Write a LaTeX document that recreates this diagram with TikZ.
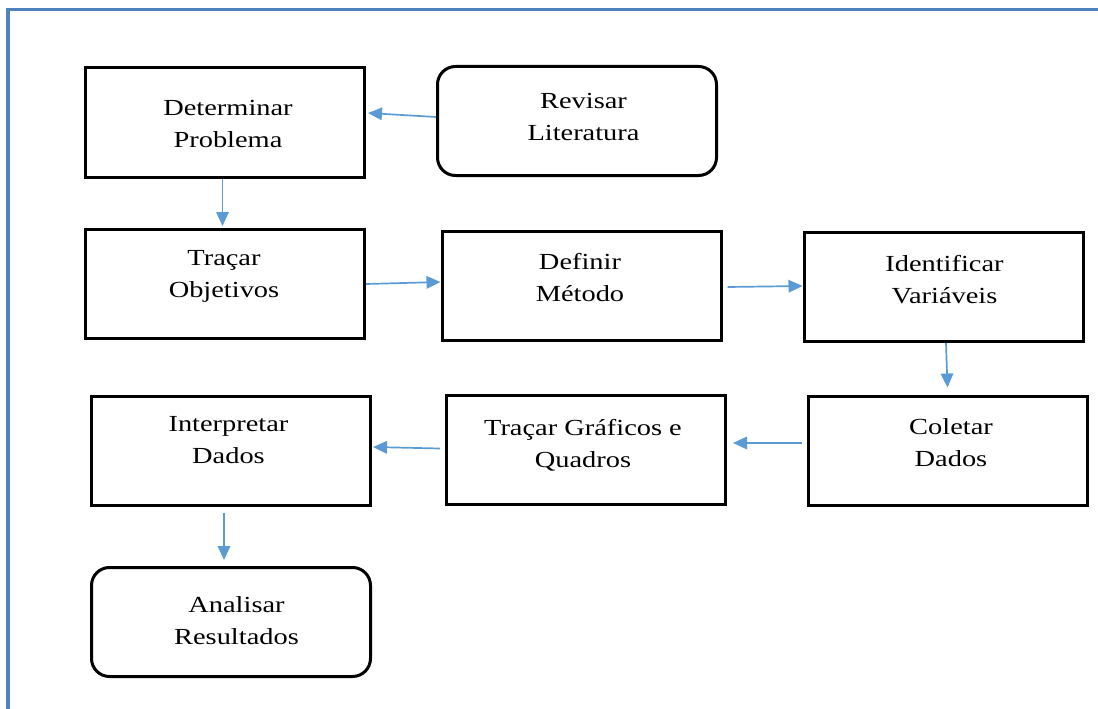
\documentclass[tikz,border=0pt]{standalone}
\usepackage{fontspec}
\setmainfont{Liberation Serif}[FakeStretch=1.235]
\usetikzlibrary{arrows.meta}
\definecolor{framecol}{RGB}{79,129,189}
\definecolor{arrowcol}{RGB}{91,155,213}
\tikzset{
  stepbox/.style={draw=black, line width=3pt, minimum width=279pt,
    minimum height=109pt, inner sep=0pt},
  roundbox/.style={stepbox, rounded corners=18pt},
  boxtext/.style={align=center, font=\fontsize{23}{32}\selectfont,
    text depth=0pt, inner sep=0pt},
  flow/.style={draw=arrowcol, line width=1.7pt,
    -{Triangle[length=14pt,width=12.5pt]}}
}
\begin{document}
\begin{tikzpicture}[x=1pt,y=-1pt]
\useasboundingbox (0,0) rectangle (1098,709);
\clip (0,0) rectangle (1098,709);
% outer frame (right and bottom edges fall outside the page)
\draw[framecol, line width=3.8pt] (8,9.5) rectangle (1130,740);

% boxes
\node[stepbox]  (det) at (225,122.5) {};
\node[roundbox] (rev) at (577,121) {};
\node[stepbox]  (obj) at (225,284) {};
\node[stepbox]  (met) at (581.5,286) {};
\node[stepbox]  (var) at (943.5,287) {};
\node[stepbox]  (col) at (947.5,450.5) {};
\node[stepbox]  (gra) at (586,450) {};
\node[stepbox]  (int) at (231,450.5) {};
\node[roundbox] (ana) at (231,622) {};

% box labels
\node[boxtext] (detT) at (228,123.5) {Determinar\\Problema};
\node[boxtext] (revT) at (583.5,117) {Revisar\\Literatura};
\node[boxtext] (objT) at (224,274) {Traçar\\Objetivos};
\node[boxtext] (metT) at (580,277.5) {Definir\\Método};
\node[boxtext] (varT) at (944.5,279.5) {Identificar\\Variáveis};
\node[boxtext] (colT) at (951,442.5) {Coletar\\Dados};
\node[boxtext] (graT) at (583,443) {Traçar Gráficos e\\Quadros};
\node[boxtext] (intT) at (228.5,440) {Interpretar\\Dados};
\node[boxtext] (anaT) at (236.5,621) {Analisar\\Resultados};

% connectors
\draw[flow] ([yshift=4pt]rev.west) -- ([xshift=2pt,yshift=9.5pt]det.east);
\draw[flow] ([xshift=-2.5pt]det.south) -- ([xshift=-2.5pt,yshift=2pt]obj.north);
\draw[flow] (obj.east) -- ([yshift=4pt]met.west);
\draw[flow] ([xshift=5pt,yshift=-1pt]met.east) -- ([yshift=1pt]var.west);
\draw[flow] ([xshift=2.5pt]var.south) -- ([yshift=7pt]col.north);
\draw[flow] ([xshift=-5pt,yshift=7.5pt]col.west) -- ([xshift=6pt,yshift=7pt]gra.east);
\draw[flow] ([xshift=-5pt,yshift=1.5pt]gra.west) -- ([xshift=1pt,yshift=3.5pt]int.east);
\draw[flow] ([xshift=-7pt,yshift=-6pt]int.south) -- ([xshift=-7pt,yshift=6pt]ana.north);
\end{tikzpicture}
\end{document}
